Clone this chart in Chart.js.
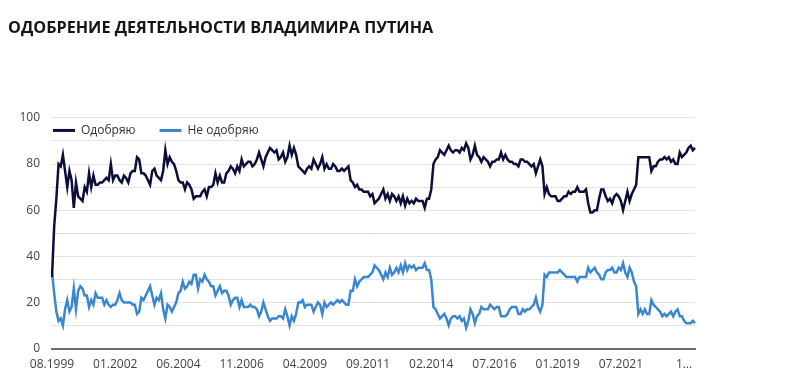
<!DOCTYPE html>
<html>
<head>
<meta charset="utf-8">
<script src="https://cdn.jsdelivr.net/npm/chart.js@4/dist/chart.umd.min.js"></script>
<style>
  html, body { margin: 0; padding: 0; background: #ffffff; }
  #wrap { width: 800px; height: 380px; position: relative; }
</style>
</head>
<body>
<div id="wrap"><canvas id="c" width="800" height="380"></canvas></div>
<script>
// ---- data ----
const titleText = 'ОДОБРЕНИЕ ДЕЯТЕЛЬНОСТИ ВЛАДИМИРА ПУТИНА';
const seriesNames = ['Одобряю', 'Не одобряю'];
const startMonth = 8, startYear = 1999;
const skippedMonths = ['01.2018', '01.2021'];
const tickLabels = ['08.1999', '01.2002', '06.2004', '11.2006', '04.2009', '09.2011', '02.2014', '07.2016', '01.2019', '07.2021', '1…'];
const tickEvery = 29;
const yTicks = [0, 20, 40, 60, 80, 100];

const approve = [
  31, 53, 65, 80, 79,                                   // 1999
  84, 77, 70, 77, 73, 61, 72, 66, 65, 64, 70, 68,       // 2000
  76, 70, 75, 71, 71, 72, 72, 73, 74, 73, 80, 73,       // 2001
  75, 75, 73, 72, 75, 74, 72, 76, 77, 77, 83, 82,       // 2002
  76, 76, 75, 73, 71, 77, 78, 75, 74, 73, 77, 86,       // 2003
  80, 83, 81, 80, 77, 73, 72, 72, 69, 72, 71, 69,       // 2004
  65, 66, 66, 66, 68, 69, 66, 70, 70, 71, 76, 72,       // 2005
  75, 72, 72, 76, 77, 79, 78, 76, 79, 77, 82, 79,       // 2006
  80, 81, 81, 79, 80, 82, 85, 82, 79, 83, 85, 87,       // 2007
  86, 85, 86, 82, 83, 85, 81, 83, 88, 84, 87, 84,       // 2008
  79, 78, 77, 76, 78, 79, 78, 82, 80, 78, 80, 83,       // 2009
  78, 80, 78, 78, 80, 79, 77, 77, 78, 77, 78, 79,       // 2010
  73, 72, 70, 71, 69, 69, 68, 68, 68, 66, 67, 63,       // 2011
  64, 65, 67, 69, 65, 67, 64, 67, 66, 64, 66, 63,       // 2012
  66, 62, 65, 63, 64, 63, 65, 64, 64, 64, 61, 65,       // 2013
  65, 69, 80, 82, 83, 86, 85, 84, 86, 88, 86, 85,       // 2014
  86, 86, 85, 87, 86, 89, 87, 82, 84, 88, 84, 83,       // 2015
  81, 83, 82, 81, 79, 81, 81, 82, 82, 85, 82, 84,       // 2016
  82, 81, 81, 80, 80, 79, 82, 82, 81, 81, 80, 79,       // 2017
  80, 76, 79, 82, 79, 67, 70, 67, 66, 66, 66,           // 2018
  64, 64, 65, 66, 66, 68, 67, 68, 68, 70, 68, 68,       // 2019
  68, 69, 63, 59, 59, 60, 60, 65, 69, 69, 66, 64,       // 2020
  65, 63, 66, 67, 66, 64, 60, 64, 68, 64, 67,           // 2021
  69, 71, 83, 83, 83, 83, 83, 83, 77, 79, 79, 81,       // 2022
  82, 82, 83, 82, 83, 81, 82, 80, 80, 85, 83, 84,       // 2023
  85, 87, 88, 86, 87                                    // 2024
];

const disapprove = [
  33, 24, 16, 12, 13,                                   // 1999
  10, 17, 21, 16, 18, 26, 17, 25, 27, 26, 23, 23,       // 2000
  18, 21, 19, 24, 22, 22, 22, 19, 21, 19, 18, 19,       // 2001
  19, 21, 24, 21, 20, 20, 20, 20, 19, 19, 15, 16,       // 2002
  22, 21, 23, 25, 27, 23, 19, 22, 21, 24, 17, 13,       // 2003
  19, 18, 16, 18, 20, 24, 25, 29, 26, 27, 29, 28,       // 2004
  32, 32, 26, 30, 29, 32, 30, 29, 27, 27, 23, 25,       // 2005
  27, 24, 25, 25, 23, 19, 21, 22, 22, 18, 21, 18,       // 2006
  18, 18, 19, 18, 18, 17, 14, 16, 20, 17, 14, 12,       // 2007
  13, 13, 13, 14, 14, 13, 17, 14, 10, 14, 12, 15,       // 2008
  20, 20, 21, 18, 19, 19, 19, 16, 18, 20, 19, 15,       // 2009
  20, 18, 19, 20, 19, 20, 21, 20, 21, 20, 19, 19,       // 2010
  25, 25, 30, 27, 29, 30, 31, 31, 31, 32, 33, 36,       // 2011
  35, 34, 32, 30, 33, 31, 35, 32, 33, 35, 33, 36,       // 2012
  33, 37, 34, 36, 35, 36, 34, 35, 35, 35, 37, 34,       // 2013
  34, 30, 18, 17, 15, 13, 14, 15, 13, 10, 13, 14,       // 2014
  14, 13, 14, 12, 13, 9, 12, 17, 15, 11, 14, 15,        // 2015
  18, 17, 17, 17, 19, 18, 17, 18, 18, 14, 14, 14,       // 2016
  15, 17, 18, 18, 18, 15, 15, 17, 16, 17, 17, 18,       // 2017
  19, 22, 18, 16, 19, 32, 31, 33, 33, 33, 33,           // 2018
  33, 34, 33, 32, 31, 31, 31, 31, 31, 29, 31, 31,       // 2019
  31, 31, 35, 33, 34, 35, 33, 32, 30, 30, 33, 34,       // 2020
  34, 35, 33, 33, 35, 34, 37, 33, 31, 35, 33,           // 2021
  29, 27, 15, 17, 15, 17, 15, 15, 21, 19, 18, 17,       // 2022
  16, 14, 15, 14, 15, 16, 14, 16, 17, 14, 14, 12,       // 2023
  11, 11, 11, 12, 11                                    // 2024
];

// month categories (MM.YYYY), one per survey
const categories = [];
{
  let m = startMonth, y = startYear;
  while (categories.length < approve.length) {
    const lab = String(m).padStart(2, '0') + '.' + y;
    if (!skippedMonths.includes(lab)) categories.push(lab);
    m++; if (m > 12) { m = 1; y++; }
  }
}

const colApprove = '#0b0e38';
const colDisapprove = '#3a87cf';

const legendInArea = {
  id: 'legendInArea',
  afterDraw(chart) {
    const { ctx, chartArea } = chart;
    let x = chartArea.left + 1;
    const y = chartArea.top + 12.5;
    ctx.save();
    ctx.font = '12px "Open Sans"';
    ctx.textBaseline = 'middle';
    ctx.textAlign = 'left';
    chart.data.datasets.forEach(ds => {
      ctx.strokeStyle = ds.borderColor;
      ctx.lineWidth = 3;
      ctx.beginPath();
      ctx.moveTo(x, y);
      ctx.lineTo(x + 22, y);
      ctx.stroke();
      x += 28;
      ctx.fillStyle = '#333333';
      ctx.fillText(ds.label, x, y + 0.5);
      x += ctx.measureText(ds.label).width + 24;
    });
    ctx.restore();
  }
};

new Chart(document.getElementById('c'), {
  type: 'line',
  data: {
    labels: categories,
    datasets: [
      { label: seriesNames[0], data: approve, borderColor: colApprove, backgroundColor: colApprove,
        borderWidth: 2.5, pointRadius: 0, tension: 0, fill: false },
      { label: seriesNames[1], data: disapprove, borderColor: colDisapprove, backgroundColor: colDisapprove,
        borderWidth: 2.5, pointRadius: 0, tension: 0, fill: false }
    ]
  },
  options: {
    responsive: false,
    animation: false,
    layout: { padding: { left: 8, right: 105, top: 0, bottom: 0 } },
    plugins: {
      legend: { display: false },
      tooltip: { enabled: false },
      title: {
        display: true,
        text: titleText,
        align: 'start',
        color: '#141414',
        font: { family: 'Open Sans', size: 16.2, weight: 'bold' },
        padding: { top: 19, bottom: 79.5 }
      }
    },
    scales: {
      x: {
        type: 'category',
        grid: { display: false, drawTicks: false },
        border: { display: true, color: '#6e6e6e', width: 2 },
        ticks: {
          autoSkip: false, maxRotation: 0, minRotation: 0,
          color: '#444444', font: { family: 'Open Sans', size: 12 }, padding: 9,
          callback: function (v, i) { return i % tickEvery === 0 ? tickLabels[i / tickEvery] : null; }
        },
        afterFit: s => { s.height = 31.5; }
      },
      y: {
        min: 0, max: 100,
        grid: { color: '#e2e2e2', lineWidth: 1, drawTicks: false },
        border: { display: false },
        ticks: {
          stepSize: 10, color: '#444444', font: { family: 'Open Sans', size: 12 }, padding: 12,
          callback: v => yTicks.includes(v) ? String(v) : ''
        },
        afterFit: s => { s.width = 44; }
      }
    }
  },
  plugins: [legendInArea]
});
</script>
</body>
</html>
